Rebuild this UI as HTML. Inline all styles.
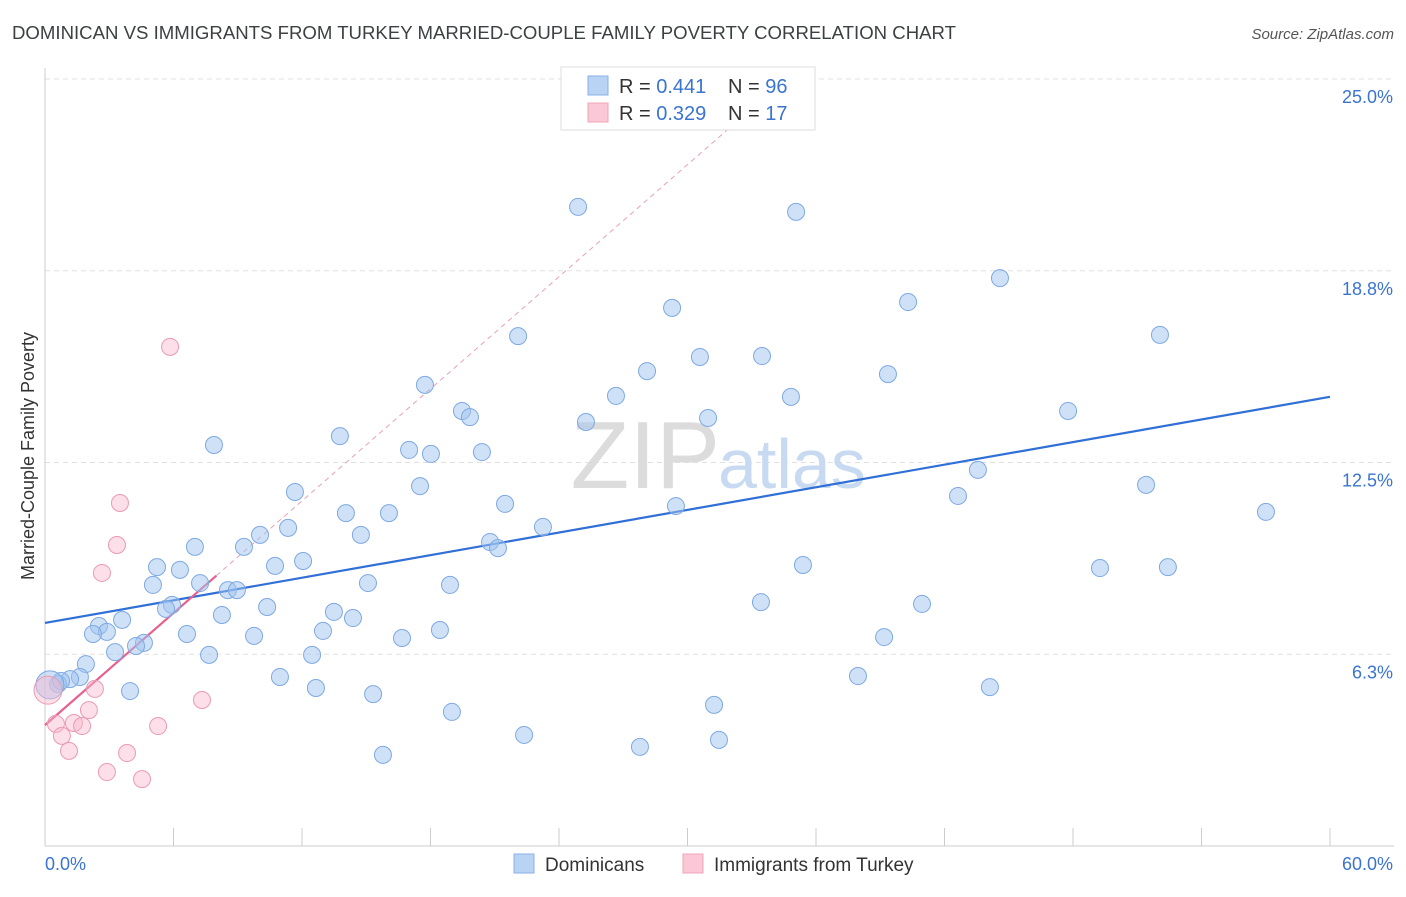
<!DOCTYPE html>
<html><head><meta charset="utf-8"><style>
body{margin:0;background:#fff;font-family:"Liberation Sans",sans-serif;}
svg text{font-family:"Liberation Sans",sans-serif;}
</style></head><body>
<svg id="chart" width="1406" height="892">
<text x="12" y="39" font-size="18" fill="#3c4043" textLength="944" lengthAdjust="spacingAndGlyphs">DOMINICAN VS IMMIGRANTS FROM TURKEY MARRIED-COUPLE FAMILY POVERTY CORRELATION CHART</text>
<text x="1394" y="39" font-size="15" fill="#555" font-style="italic" text-anchor="end">Source: ZipAtlas.com</text>
<g id="grid"></g>
<text x="720" y="488" font-size="96" fill="#dcdcdc" text-anchor="end" font-family="Liberation Serif">ZIP</text>
<text x="718" y="488" font-size="70" fill="#c8daf2">atlas</text>
<g id="lines"></g>
<g id="points"></g>
<text transform="translate(34,456) rotate(-90)" font-size="18" fill="#333" text-anchor="middle">Married-Couple Family Poverty</text>
<g>
<rect x="561" y="67" width="254" height="63" fill="#fff" stroke="#ddd"/>
<rect x="588" y="76" width="20" height="19" fill="#b9d3f5" stroke="#8ab2e8"/>
<rect x="588" y="103" width="20" height="19" fill="#fac8d6" stroke="#f0a3ba"/>
<text x="619" y="93" font-size="20" fill="#333">R = <tspan fill="#3a74d0">0.441</tspan></text>
<text x="728" y="93" font-size="20" fill="#333">N = <tspan fill="#3a74d0">96</tspan></text>
<text x="619" y="120" font-size="20" fill="#333">R = <tspan fill="#3a74d0">0.329</tspan></text>
<text x="728" y="120" font-size="20" fill="#333">N = <tspan fill="#3a74d0"> 17</tspan></text>
</g>
<g>
<rect x="514" y="854" width="20" height="19" fill="#b9d3f5" stroke="#8ab2e8"/>
<text x="545" y="871" font-size="19" fill="#333">Dominicans</text>
<rect x="683" y="854" width="20" height="19" fill="#fac8d6" stroke="#f0a3ba"/>
<text x="714" y="871" font-size="19" fill="#333">Immigrants from Turkey</text>
</g>
</svg>
<script>
const xTicks=[0,6,12,18,24,30,36,42,48,54,60];
const yTicks=[6.25,12.5,18.75,25];
const yTickLabels=["6.3%","12.5%","18.8%","25.0%"];
const blueX=[24.89,35.07,44.59,29.28,40.30,22.09,52.06,30.58,33.48,28.11,39.36,17.74,26.66,34.83,19.47,19.84,30.96,47.77,25.26,13.77,7.89,17.00,18.02,20.40,43.56,17.51,11.67,42.63,51.41,21.48,29.46,57.01,14.05,16.06,11.35,10.04,14.75,23.25,20.78,21.15,9.29,7.00,5.23,6.30,10.74,12.05,35.39,49.26,52.43,5.04,7.24,8.54,8.96,15.08,18.91,5.93,5.65,10.37,8.26,13.49,14.38,33.43,40.95,2.52,3.60,2.89,2.24,6.63,9.76,12.98,16.67,18.44,39.18,4.62,4.25,3.27,7.66,12.47,1.91,1.63,1.17,0.61,0.75,10.97,12.65,3.97,15.32,37.96,44.12,31.24,19.00,22.37,31.47,27.78,15.78,0.23];
const blueY=[20.83,20.67,18.51,17.54,17.73,16.62,16.66,15.94,15.97,15.48,15.38,15.03,14.67,14.64,14.18,13.98,13.95,14.18,13.82,13.36,13.07,12.91,12.78,12.84,12.26,11.73,11.54,11.41,11.77,11.15,11.08,10.89,10.85,10.85,10.37,10.14,10.14,10.40,9.91,9.71,9.75,9.75,9.09,9.00,9.13,9.29,9.16,9.06,9.09,8.51,8.57,8.34,8.34,8.57,8.51,7.86,7.73,7.79,7.53,7.63,7.43,7.95,7.89,7.17,7.37,6.98,6.91,6.91,6.85,7.01,6.78,7.04,6.81,6.62,6.52,6.32,6.23,6.23,5.93,5.51,5.44,5.28,5.38,5.51,5.15,5.05,4.95,5.54,5.18,4.60,4.37,3.62,3.46,3.23,2.97,5.25];
const pinkX=[5.84,3.50,3.36,2.66,2.33,2.05,7.33,5.28,1.35,1.73,0.51,0.79,1.12,3.83,2.89,4.53,0.14];
const pinkY=[16.27,11.18,9.81,8.90,5.12,4.43,4.76,3.91,4.01,3.91,3.98,3.59,3.10,3.03,2.41,2.18,5.08];
const blueFit=[7.27,14.64];
const pinkFit=[3.94,0.609];
const pinkSolidEnd=8.0;
const NS="http://www.w3.org/2000/svg";
const X=v=>45+v/60*1285, Y=v=>846-v*30.68;
function mk(t,a,p){const e=document.createElementNS(NS,t);for(const k in a)e.setAttribute(k,a[k]);p.appendChild(e);return e;}
const grid=document.getElementById('grid');
yTicks.forEach((t,i)=>{
 const l=mk('line',{x1:45,x2:1394,y1:Y(t),y2:Y(t),stroke:'#e0e0e0','stroke-dasharray':'5,4'},grid);
 
 
 const tx=mk('text',{x:1393,y:Y(t)+24,'font-size':18,fill:'#3a74d0','text-anchor':'end'},grid);tx.textContent=yTickLabels[i];
 
 
});
const ax=mk('line',{x1:45,x2:1394,y1:846,y2:846,stroke:'#ccc'},grid);


const ay=mk('line',{x1:45,x2:45,y1:68,y2:846,stroke:'#ccc'},grid);


xTicks.forEach(t=>{const l=mk('line',{x1:X(t),x2:X(t),y1:828,y2:846,stroke:'#ccc'},grid);
 
 });
const xl0=mk('text',{x:45,y:870,'font-size':18,fill:'#3a74d0'},grid);xl0.textContent='0.0%';


const xl1=mk('text',{x:1393,y:870,'font-size':18,fill:'#3a74d0','text-anchor':'end'},grid);xl1.textContent='60.0%';


const pts=document.getElementById('points');
blueX.forEach((x,i)=>{const c=mk('circle',{cx:X(x),cy:Y(blueY[i]),r:i==blueX.length-1?14:8.5,fill:'rgba(160,195,240,0.5)',stroke:'#7ea9e2','stroke-width':1},pts);
 
 });
pinkX.forEach((x,i)=>{const c=mk('circle',{cx:X(x),cy:Y(pinkY[i]),r:i==pinkX.length-1?14:8.5,fill:'rgba(248,185,205,0.45)',stroke:'#eb9ab3','stroke-width':1},pts);
 
 });
const ln=document.getElementById('lines');
const bl=mk('line',{x1:X(0),y1:Y(blueFit[0]),x2:X(60),y2:Y(blueFit[1]),stroke:'#2f6fd6','stroke-width':2.2},ln);


const pmax=pinkSolidEnd, xe=(25-pinkFit[0])/pinkFit[1];
const pd=mk('line',{x1:X(pmax),y1:Y(pinkFit[0]+pinkFit[1]*pmax),x2:X(xe),y2:Y(25),stroke:'#eaa0b8','stroke-width':1,'stroke-dasharray':'5,4'},ln);


const pl=mk('line',{x1:X(0),y1:Y(pinkFit[0]),x2:X(pmax),y2:Y(pinkFit[0]+pinkFit[1]*pmax),stroke:'#e8608e','stroke-width':2.2},ln);


</script>
</body></html>
